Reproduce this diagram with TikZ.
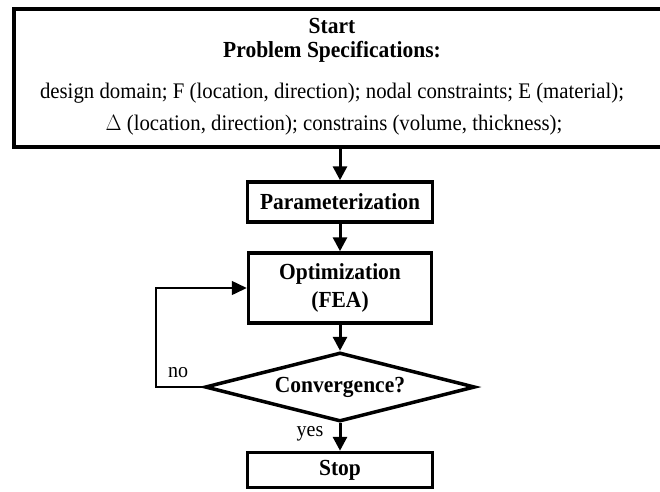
\documentclass[tikz,border=0pt]{standalone}
\usepackage{fontspec}
\setmainfont{Liberation Serif}
\usetikzlibrary{arrows.meta,shapes.geometric}
\newcommand{\vst}[1]{\scalebox{1}[1.07]{#1}}
\begin{document}
\begin{tikzpicture}[x=1pt,y=-1pt,
  box/.style={draw,line width=3.5pt,inner sep=0pt,font=\fontsize{21.5}{28}\selectfont\bfseries},
  flow/.style={line width=3pt,-{Triangle[width=14pt,length=14pt]}},
  loopline/.style={line width=1.5pt,-{Triangle[width=14pt,length=15pt]}},
  lbl/.style={inner sep=0pt,font=\fontsize{20}{24}\selectfont},
  hd/.style={inner sep=0pt,anchor=base,font=\fontsize{21.5}{25}\selectfont\bfseries},
  txt/.style={inner sep=0pt,anchor=base,font=\fontsize{20.8}{24}\selectfont}]
\useasboundingbox (0,0) rectangle (660,491);
\fill[white] (0,0) rectangle (660,491);
% top box
\node[draw,line width=4pt,minimum width=660pt,minimum height=138pt,inner sep=0pt,anchor=north west] (spec) at (12,7) {};
\node[hd] (start) at (332,33) {\vst{Start}};
\node[hd] (ps) at (332,57) {\vst{Problem Specifications:}};
\node[txt] (l3) at (332,98) {\vst{design domain; F (location, direction); nodal constraints; E (material);}};
\node[txt] (l4) at (334,130) {\vst{$\Delta$ (location, direction); constrains (volume, thickness);}};
% boxes
\node[box,minimum width=185pt,minimum height=40pt] (par) at (340,202) {\vst{Parameterization}};
\node[box,minimum width=183pt,minimum height=70pt,align=center] (opt) at (340,288) {\vst{Optimization}\\\vst{(FEA)}};
\node[draw,shape=diamond,line width=3.5pt,inner sep=0pt,aspect=3.9,minimum width=270pt,minimum height=69pt,font=\fontsize{21.5}{25}\selectfont\bfseries] (conv) at (340,387) {\vst{Convergence?}};
\node[box,minimum width=185pt,minimum height=35pt] (stop) at (340,470) {\vst{Stop}};
% connectors
\draw[flow] (spec.south -| par.north) -- (par.north);
\draw[flow] (par) -- (opt);
\draw[flow] (opt) -- (conv);
\draw[flow] (conv) -- (stop);
\coordinate (lc) at (156,387);
\draw[loopline] (conv.west) -- (lc) |- (opt.west);
\node[lbl] (no) at (178,373) {\vst{no}};
\node[lbl] (yes) at (310,434) {\vst{yes}};
\end{tikzpicture}
\end{document}
